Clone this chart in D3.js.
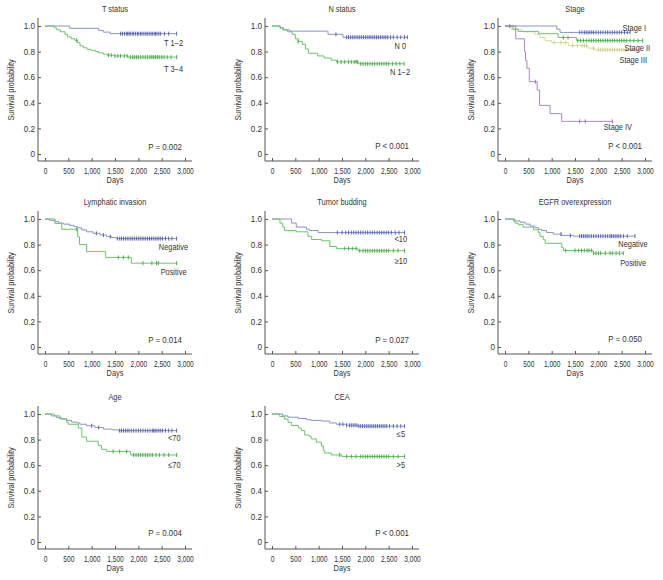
<!DOCTYPE html>
<html><head><meta charset="utf-8">
<script src="https://cdn.jsdelivr.net/npm/d3@7"></script>
<style>
body{margin:0;background:#fff;}
svg{display:block;font-family:"Liberation Sans",Arial,sans-serif;}
</style></head>
<body><svg id="c" width="663" height="580"></svg>
<script>
// ---- data (days, survival probability) ----
const xTicks = [0,500,1000,1500,2000,2500,3000];
const yTicks = [0,0.2,0.4,0.6,0.8,1.0];
const titles = ["T status","N status","Stage","Lymphatic invasion","Tumor budding","EGFR overexpression","Age","CEA"];
const pValues = ["P = 0.002","P < 0.001","P < 0.001","P = 0.014","P = 0.027","P = 0.050","P = 0.004","P < 0.001"];

const tBlueSteps = [[530,0.982],[1150,0.965],[1250,0.952],[1400,0.94]];
const tBlueCensor = [1620,1660,1700,1740,1770,1800,1830,1870,1900,1940,1980,2010,2050,2080,2120,2160,2190,2230,2270,2300,2340,2370,2400,2440,2480,2560,2650,2820];
const tGreenSteps = [[200,0.985],[250,0.97],[330,0.955],[430,0.935],[480,0.915],[560,0.9],[640,0.888],[700,0.87],[750,0.845],[820,0.83],[900,0.818],[980,0.81],[1080,0.8],[1150,0.79],[1250,0.78],[1330,0.772],[1480,0.766],[1780,0.757]];
const tGreenCensor = [680,1360,1420,1500,1560,1620,1700,1760,1830,1880,1920,1960,2000,2050,2100,2150,2200,2250,2290,2330,2370,2410,2450,2500,2550,2620,2700,2820];

const nBlueSteps = [[180,0.985],[230,0.97],[380,0.96],[1200,0.935],[1520,0.912]];
const nBlueCensor = [1370,1600,1640,1680,1720,1760,1800,1840,1880,1920,1960,2000,2040,2080,2120,2160,2200,2240,2280,2320,2360,2400,2440,2480,2540,2600,2680,2760,2840,2900];
const nGreenSteps = [[170,0.985],[250,0.97],[330,0.955],[430,0.935],[500,0.9],[560,0.878],[650,0.857],[720,0.82],[780,0.787],[980,0.766],[1120,0.75],[1270,0.733],[1380,0.72],[1850,0.705]];
const nGreenCensor = [560,1400,1480,1560,1640,1700,1760,1800,1830,1900,1950,2000,2050,2100,2150,2200,2250,2300,2350,2400,2450,2500,2580,2660,2740,2830];

const stage1Steps = [[1110,0.975],[1180,0.95]];
const stage1Censor = [1600,1650,1700,1740,1780,1820,1860,1900,1950,2000,2050,2100,2150,2200,2250,2300,2350,2400,2450,2500,2560,2620,2680];
const stage2Steps = [[170,0.975],[280,0.958],[720,0.94],[1140,0.91],[1530,0.886]];
const stage2Censor = [1250,1350,1560,1620,1680,1740,1800,1850,1900,1950,2000,2050,2100,2150,2200,2250,2300,2350,2400,2450,2500,2550,2600,2680,2760,2850,2950];
const stage3Steps = [[130,0.975],[360,0.955],[640,0.935],[750,0.91],[860,0.885],[1000,0.87],[1360,0.847],[1780,0.827],[1920,0.814]];
const stage3Censor = [1050,1200,1300,1450,1550,1650,1700,1750,1900,2000,2050,2100,2150,2200,2250,2300,2350,2400,2450,2500,2550,2600,2700,2860];
const stage4Steps = [[230,0.9],[420,0.8],[440,0.73],[470,0.67],[520,0.565],[690,0.5],[740,0.38],[965,0.315],[1215,0.255]];
const stage4Censor = [100,650,1600,1720,2300];

const lymNegSteps = [[100,0.99],[200,0.98],[290,0.968],[400,0.96],[530,0.95],[620,0.94],[700,0.93],[790,0.915],[890,0.9],[1030,0.888],[1180,0.875],[1320,0.862],[1430,0.855],[1530,0.847]];
const lymNegCensor = [1100,1250,1400,1550,1600,1640,1680,1720,1760,1800,1840,1880,1920,1960,2000,2040,2080,2120,2160,2200,2240,2280,2320,2360,2400,2440,2480,2520,2580,2650,2720,2820];
const lymPosSteps = [[215,0.965],[360,0.92],[700,0.86],[740,0.8],[890,0.745],[1300,0.7],[1850,0.655]];
const lymPosCensor = [680,1570,1680,1785,2100,2290,2390,2430,2820];

const tbBlueSteps = [[420,0.968],[520,0.937],[740,0.92],[800,0.91],[990,0.894]];
const tbBlueCensor = [1400,1500,1580,1640,1700,1750,1800,1850,1900,1950,2000,2050,2100,2150,2200,2250,2300,2350,2400,2450,2500,2560,2640,2720,2840];
const tbGreenSteps = [[170,0.968],[230,0.937],[270,0.91],[520,0.9],[770,0.865],[850,0.84],[1060,0.83],[1240,0.785],[1380,0.77],[1840,0.752]];
const tbGreenCensor = [1560,1640,1720,1800,1880,1950,2000,2050,2100,2150,2200,2250,2300,2350,2400,2450,2500,2600,2700,2840];

const egNegSteps = [[180,0.985],[320,0.975],[430,0.96],[535,0.945],[640,0.932],[715,0.92],[785,0.91],[890,0.895],[1035,0.882],[1215,0.872],[1465,0.866]];
const egNegCensor = [1200,1400,1600,1640,1680,1720,1760,1800,1850,1900,1950,2000,2050,2100,2150,2200,2250,2280,2320,2360,2400,2440,2480,2540,2620,2785];
const egPosSteps = [[215,0.968],[285,0.955],[390,0.937],[610,0.916],[715,0.895],[750,0.864],[820,0.838],[860,0.81],[1215,0.777],[1250,0.754],[1890,0.733]];
const egPosCensor = [1300,1500,1580,1640,1700,1760,1800,1850,1900,1950,2000,2050,2150,2250,2300,2380,2450,2535];

const ageBlueSteps = [[140,0.985],[250,0.97],[370,0.962],[465,0.95],[570,0.937],[680,0.93],[750,0.92],[890,0.908],[1070,0.895],[1250,0.882],[1430,0.876],[1570,0.87]];
const ageBlueCensor = [1000,1150,1600,1640,1680,1720,1760,1800,1850,1900,1950,2000,2050,2100,2150,2200,2250,2300,2330,2360,2400,2440,2480,2520,2580,2650,2720,2820];
const ageGreenSteps = [[200,0.985],[320,0.96],[465,0.935],[500,0.92],[715,0.89],[790,0.82],[890,0.787],[1140,0.755],[1210,0.724],[1320,0.708],[1835,0.68]];
const ageGreenCensor = [1460,1600,1750,1900,1950,2000,2050,2100,2150,2200,2250,2300,2380,2450,2550,2650,2820];

const ceaBlueSteps = [[230,0.985],[340,0.975],[560,0.965],[735,0.955],[840,0.95],[1060,0.945],[1235,0.93],[1380,0.92],[1590,0.912],[1840,0.905]];
const ceaBlueCensor = [1450,1520,1600,1660,1700,1740,1780,1820,1860,1900,1940,1980,2020,2060,2100,2140,2180,2220,2260,2300,2340,2380,2420,2460,2520,2600,2680,2760,2840];
const ceaGreenSteps = [[165,0.98],[270,0.96],[345,0.935],[415,0.91],[560,0.89],[630,0.87],[700,0.835],[800,0.825],[840,0.805],[950,0.78],[1060,0.75],[1100,0.715],[1130,0.695],[1270,0.68],[1500,0.668]];
const ceaGreenCensor = [1450,1600,1700,1800,1900,1950,2000,2050,2100,2150,2200,2250,2300,2350,2400,2450,2500,2600,2700,2840];

// ---- styles ----
const BLUE = {line:"#8a92c8", mark:"#4a58b0"};
const GREEN = {line:"#6cc46c", mark:"#3aa43a"};
const PALE = {line:"#d8dc9c", mark:"#c4c882"};
const PURPLE = {line:"#a888bc", mark:"#8a6aa0"};

const colX = [45, 272, 505];
const rowY = [26, 219, 414];
const W = 140, H = 128;

const panels = [
  {series:[{steps:tBlueSteps,censor:tBlueCensor,c:BLUE},{steps:tGreenSteps,censor:tGreenCensor,c:GREEN}],
   labels:[["T 1−2",138,17],["T 3−4",138,43]], p:121},
  {series:[{steps:nBlueSteps,censor:nBlueCensor,c:BLUE},{steps:nGreenSteps,censor:nGreenCensor,c:GREEN}],
   labels:[["N 0",134,20],["N 1−2",138,46]], p:120},
  {series:[{steps:stage3Steps,censor:stage3Censor,c:PALE},{steps:stage2Steps,censor:stage2Censor,c:GREEN},{steps:stage1Steps,censor:stage1Censor,c:BLUE},{steps:stage4Steps,censor:stage4Censor,c:PURPLE}],
   labels:[["Stage I",141,2],["Stage II",145,22],["Stage III",142,34],["Stage IV",127,101]], p:120},
  {series:[{steps:lymNegSteps,censor:lymNegCensor,c:BLUE},{steps:lymPosSteps,censor:lymPosCensor,c:GREEN}],
   labels:[["Negative",143,28],["Positive",141.5,53]], p:121},
  {series:[{steps:tbBlueSteps,censor:tbBlueCensor,c:BLUE},{steps:tbGreenSteps,censor:tbGreenCensor,c:GREEN}],
   labels:[["<10",135,20],["≥10",135,42]], p:121},
  {series:[{steps:egNegSteps,censor:egNegCensor,c:BLUE},{steps:egPosSteps,censor:egPosCensor,c:GREEN}],
   labels:[["Negative",142.5,25],["Positive",141,44]], p:120},
  {series:[{steps:ageBlueSteps,censor:ageBlueCensor,c:BLUE},{steps:ageGreenSteps,censor:ageGreenCensor,c:GREEN}],
   labels:[["<70",135.5,24],["≤70",135.5,51]], p:119},
  {series:[{steps:ceaBlueSteps,censor:ceaBlueCensor,c:BLUE},{steps:ceaGreenSteps,censor:ceaGreenCensor,c:GREEN}],
   labels:[["≤5",133,20],[">5",133,51]], p:119}
];

const svg = d3.select("#c");
const TXT = "#333";
const fs = 8.5;
const K = 0.87;   // condensed look

function addText(g, x, y, s, anchor, k, rot) {
  return g.append("text")
    .attr("transform", `translate(${x},${y})` + (rot ? ` rotate(${rot})` : "") + ` scale(${k},1)`)
    .attr("dy", "0.35em").attr("text-anchor", anchor)
    .attr("font-size", fs).attr("fill", TXT).text(s);
}
function squeezeTicks(sel, k) {
  sel.selectAll("text").each(function () {
    const t = d3.select(this);
    const x = +t.attr("x") || 0, y = +t.attr("y") || 0;
    t.attr("x", null).attr("y", null)
      .attr("transform", `translate(${x},${y}) scale(${k},1)`);
  });
}

panels.forEach((p, i) => {
  const x0 = colX[i % 3], y1 = rowY[Math.floor(i / 3)];
  const g = svg.append("g").attr("transform", `translate(${x0},${y1})`);
  const x = d3.scaleLinear().domain([0, 3000]).range([0, W]);
  const y = d3.scaleLinear().domain([0, 1]).range([H, 0]);

  addText(g, 70, -16.5, titles[i], "middle", K);

  const yAx = g.append("g").attr("transform", "translate(-7,0)")
    .call(d3.axisLeft(y).tickValues(yTicks).tickSize(-3).tickPadding(3)
      .tickFormat(d => d === 0 ? "0" : d3.format(".1f")(d)));
  const xAx = g.append("g").attr("transform", `translate(0,${H + 7})`)
    .call(d3.axisBottom(x).tickValues(xTicks).tickSize(-3).tickPadding(7).tickFormat(d3.format(",")));
  [yAx, xAx].forEach(a => {
    a.select(".domain").remove();
    a.selectAll("line").attr("stroke", "#555");
    a.selectAll("text").attr("font-size", fs).attr("fill", TXT).attr("font-family", null);
  });
  squeezeTicks(yAx, 0.95);
  squeezeTicks(xAx, 0.78);
  g.append("path").attr("d", `M-7,-8V${H + 7}H${W + 7}`).attr("fill", "none").attr("stroke", "#555");

  addText(g, 70, H + 26, "Days", "middle", K);
  addText(g, -34, H / 2, "Survival probability", "middle", 0.86, -90);

  const line = d3.line().x(d => x(d[0])).y(d => y(d[1])).curve(d3.curveStepAfter);
  p.series.forEach(s => {
    const end = d3.max(s.censor);
    const pts = [[0, 1]].concat(s.steps);
    pts.push([end, s.steps[s.steps.length - 1][1]]);
    g.append("path").attr("d", line(pts)).attr("fill", "none")
      .attr("stroke", s.c.line).attr("stroke-width", 1);
    const surv = t => { let v = 1; s.steps.forEach(st => { if (st[0] <= t) v = st[1]; }); return v; };
    g.selectAll(null).data(s.censor).enter().append("line")
      .attr("x1", d => x(d)).attr("x2", d => x(d))
      .attr("y1", d => y(surv(d)) - 2).attr("y2", d => y(surv(d)) + 2)
      .attr("stroke", s.c.mark).attr("stroke-width", 0.9);
  });

  p.labels.forEach(l => addText(g, l[1], l[2], l[0], "end", K));
  addText(g, 137, p.p, pValues[i], "end", 0.93);
});
</script></body></html>
